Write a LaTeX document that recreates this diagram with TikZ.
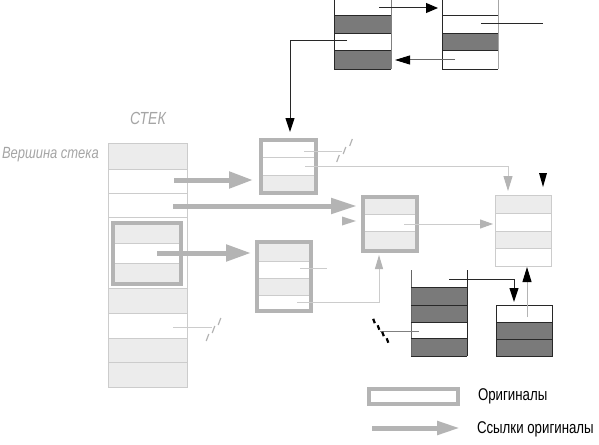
\documentclass[tikz,border=0pt]{standalone}
\usepackage{fontspec}
\setmainfont{Liberation Sans}
\newfontfamily\nar[FakeStretch=0.8]{Liberation Sans}
\newfontfamily\narl[FakeStretch=0.78]{Liberation Sans}
\usetikzlibrary{arrows.meta}
\definecolor{gb}{RGB}{180,180,180}
\definecolor{lf}{RGB}{236,236,236}
\definecolor{lb}{RGB}{204,204,204}
\definecolor{dk}{RGB}{122,122,122}
\definecolor{tx}{RGB}{165,165,165}
\definecolor{bl}{RGB}{40,40,40}
\tikzset{
  orig/.style={draw=gb, line width=4pt, inner sep=0pt, outer sep=0pt},
  plainbox/.style={inner sep=0pt, outer sep=0pt},
  cellline/.style={draw=lb, line width=0.8pt},
  thinline/.style={draw=lb, line width=1pt},
  blkline/.style={draw=bl, line width=1pt},
  bigarrow/.style={draw=gb, line width=5pt},
  ghead/.style={-{Triangle[length=15pt,width=9pt,color=gb]}},
  bhead/.style={-{Triangle[length=14pt,width=9pt,color=black]}},
  gstroke/.style={draw=gb, line width=1.2pt},
  bstroke/.style={draw=black, line width=2.2pt},
  lbl/.style={anchor=west, inner sep=0pt, outer sep=0pt}
}
\begin{document}
\begin{tikzpicture}[x=1pt,y=-1pt]
\useasboundingbox (0,0) rectangle (599,444);
\fill[white] (0,0) rectangle (599,444);

% ---------- stack ----------
\fill[lf] (108,143) rectangle (187,169);
\fill[lf] (108,288) rectangle (187,313);
\fill[lf] (108,338) rectangle (187,387);
\foreach \y in {169,193,217,288,313,338,362} \draw[cellline] (108,\y) -- (187,\y);
\node[plainbox, draw=lb, line width=1pt, minimum width=79pt, minimum height=244pt] (ST) at (147.5,265) {};
% box inside stack
\fill[lf] (115,225) rectangle (179,243);
\fill[lf] (115,263) rectangle (179,282);
\draw[cellline] (115,243) -- (179,243);
\draw[cellline] (115,263) -- (179,263);
\node[orig, minimum width=68pt, minimum height=61pt] (SB) at (147,253.5) {};

\node[lbl, text=tx] (stk) at (130,118.5) {\nar\fontsize{17.5}{19}\selectfont\itshape СТЕК};
\node[lbl, text=tx] (top) at (2,154.5) {\nar\fontsize{16.2}{18}\selectfont\itshape Вершина стека};

% ---------- box A ----------
\fill[lf] (263,175) rectangle (314,191);
\draw[cellline] (263,157) -- (314,157);
\draw[cellline] (263,175) -- (314,175);
\node[orig, minimum width=55pt, minimum height=53pt] (A) at (288.5,166.5) {};

% ---------- box M ----------
\fill[lf] (365,199) rectangle (415,214);
\fill[lf] (365,231) rectangle (415,249);
\draw[cellline] (365,214) -- (415,214);
\draw[cellline] (365,231) -- (415,231);
\node[orig, minimum width=54pt, minimum height=54pt] (M) at (390,224) {};

% ---------- box B ----------
\fill[lf] (259,244) rectangle (309,261);
\fill[lf] (259,278) rectangle (309,295);
\foreach \y in {261,278,295} \draw[cellline] (259,\y) -- (309,\y);
\node[orig, minimum width=54pt, minimum height=69pt] (B) at (284,276.5) {};

% ---------- box R ----------
\fill[lf] (495,195) rectangle (551,213);
\fill[lf] (495,231) rectangle (551,248);
\foreach \y in {213,231,248} \draw[cellline] (495,\y) -- (551,\y);
\node[plainbox, draw=lb, line width=1pt, minimum width=56pt, minimum height=71pt] (R) at (523,230.5) {};

% ---------- top-left dark box ----------
\fill[dk] (334,16) rectangle (391,34);
\fill[dk] (334,51) rectangle (391,69);
\node[plainbox, minimum width=57pt, minimum height=71pt] (TL) at (362.5,33.5) {};
\draw[blkline] (334,-2) -- (334,69) -- (391,69);
\draw[draw=gray, line width=1pt] (391,-2) -- (391,69);
\foreach \y in {16,34,51} \draw[blkline] (334,\y) -- (391,\y);

% ---------- top-right dark box ----------
\fill[dk] (442,34) rectangle (498,51);
\node[plainbox, minimum width=56pt, minimum height=71pt] (TR) at (470,33.5) {};
\draw[blkline] (442,-2) -- (442,69) -- (498,69);
\draw[draw=gray!70, line width=1pt] (498,-2) -- (498,69);
\foreach \y in {16,34,51} \draw[blkline] (442,\y) -- (498,\y);

% ---------- bottom dark container D1 ----------
\fill[dk] (411,287) rectangle (467,322);
\fill[dk] (411,338) rectangle (467,356);
\node[plainbox, minimum width=56pt, minimum height=86pt] (D1) at (439,313) {};
\draw[draw=gray!80!black, line width=1pt] (411,270) -- (411,356);
\draw[blkline] (467,270) -- (467,356);
\foreach \y in {287,305,322,338,356} \draw[blkline] (411,\y) -- (467,\y);

% ---------- bottom dark box D2 ----------
\fill[dk] (496,322) rectangle (552,356);
\draw[blkline] (496,339) -- (552,339);
\draw[blkline] (496,322) -- (552,322);
\node[plainbox, draw=bl, line width=1pt, minimum width=56pt, minimum height=51pt] (D2) at (524,330.5) {};

% ---------- coordinates ----------
\coordinate (t1s) at (347,41);  \coordinate (t1c) at (290,41);  \coordinate (t1e) at (290,132);
\coordinate (t2s) at (379,8);   \coordinate (t2e) at (438,8);
\coordinate (t3s) at (455,60);  \coordinate (t3e) at (395,60);
\coordinate (t4s) at (481,24);  \coordinate (t4e) at (543,24);
\coordinate (d1s) at (449,279); \coordinate (d1c) at (514,279); \coordinate (d1e) at (514,302);
\coordinate (d2s) at (527,317); \coordinate (d2e) at (527,267);
\coordinate (k4s) at (380,331); \coordinate (k4e) at (419,331);
\coordinate (a1s) at (304,151); \coordinate (a1e) at (342,151);
\coordinate (a2s) at (305,166); \coordinate (a2c) at (508,166); \coordinate (a2e) at (508,191);
\coordinate (m1s) at (404,224); \coordinate (m1e) at (493,224);
\coordinate (b1s) at (300,268); \coordinate (b1e) at (327,268);
\coordinate (b2s) at (297,302); \coordinate (b2c) at (379,302); \coordinate (b2e) at (379,255);
\coordinate (s1s) at (173,327); \coordinate (s1e) at (212,327);
\coordinate (k1s) at (174,180); \coordinate (k1e) at (253,180);
\coordinate (k2s) at (173,206); \coordinate (k2e) at (357,206);
\coordinate (k3s) at (157,253); \coordinate (k3e) at (251,253);

% ---------- black connectors ----------
\draw[blkline, bhead] (t1s) -- (t1c) -- (t1e);
\draw[blkline, -{Triangle[length=12pt,width=10pt,color=black]}] (t2s) -- (t2e);
\draw[draw=gray!80!black, line width=1pt, -{Triangle[length=15pt,width=9pt,color=black]}] (t3s) -- (t3e);
\draw[blkline] (t4s) -- (t4e);
\fill[black] (539,173) -- (547,173) -- (543,187) -- cycle;
\draw[blkline, bhead] (d1s) -- (d1c) -- (d1e);
\draw[draw=gb, line width=1pt, -{Triangle[length=15pt,width=9pt,color=black]}] (d2s) -- (d2e);
\draw[draw=gray, line width=1pt] (k4s) -- (k4e);
% black break mark
\foreach \x/\y in {374/321, 378.5/327.5, 383/334, 387.5/340.5}
  \draw[bstroke] (\x-0.8,\y-2.2) -- (\x+0.8,\y+2.2);

% ---------- gray connectors ----------
\draw[thinline] (a1s) -- (a1e);
\foreach \x/\y in {338/158.5, 344.5/150.5, 351/142.5}
  \draw[gstroke] (\x-1.3,\y+3.5) -- (\x+1.3,\y-3.5);
\draw[thinline, ghead] (a2s) -- (a2c) -- (a2e);
\draw[thinline, -{Triangle[length=13pt,width=9pt,color=gb]}] (m1s) -- (m1e);
\draw[thinline] (b1s) -- (b1e);
\draw[thinline, -{Triangle[length=14pt,width=8pt,color=gb]}] (b2s) -- (b2c) -- (b2e);
\draw[thinline] (s1s) -- (s1e);
\foreach \x/\y in {207.5/337.5, 213.5/329.5, 219.5/321.5}
  \draw[gstroke] (\x-1.3,\y+3.5) -- (\x+1.3,\y-3.5);

% ---------- thick gray arrows ----------
\draw[bigarrow, -{Triangle[length=24pt,width=16pt]}] (k1s) -- (k1e);
\draw[bigarrow, -{Triangle[length=26pt,width=15pt]}] (k2s) -- (k2e);
\draw[bigarrow, -{Triangle[length=25pt,width=16pt]}] (k3s) -- (k3e);
\fill[gb] (342,216.5) -- (356,221) -- (342,225.5) -- cycle;

% ---------- legend ----------
\node[orig, minimum width=89pt, minimum height=15pt] (LB) at (413.5,396.5) {};
\node[lbl] (LBt) at (478,396) {\narl\fontsize{17}{19}\selectfont Оригиналы};
\coordinate (las) at (372,428); \coordinate (lae) at (460,428);
\draw[bigarrow, -{Triangle[length=23pt,width=13pt]}] (las) -- (lae);
\node[lbl] (LAt) at (477,429) {\narl\fontsize{17}{19}\selectfont Ссылки оригиналы};
\end{tikzpicture}
\end{document}
